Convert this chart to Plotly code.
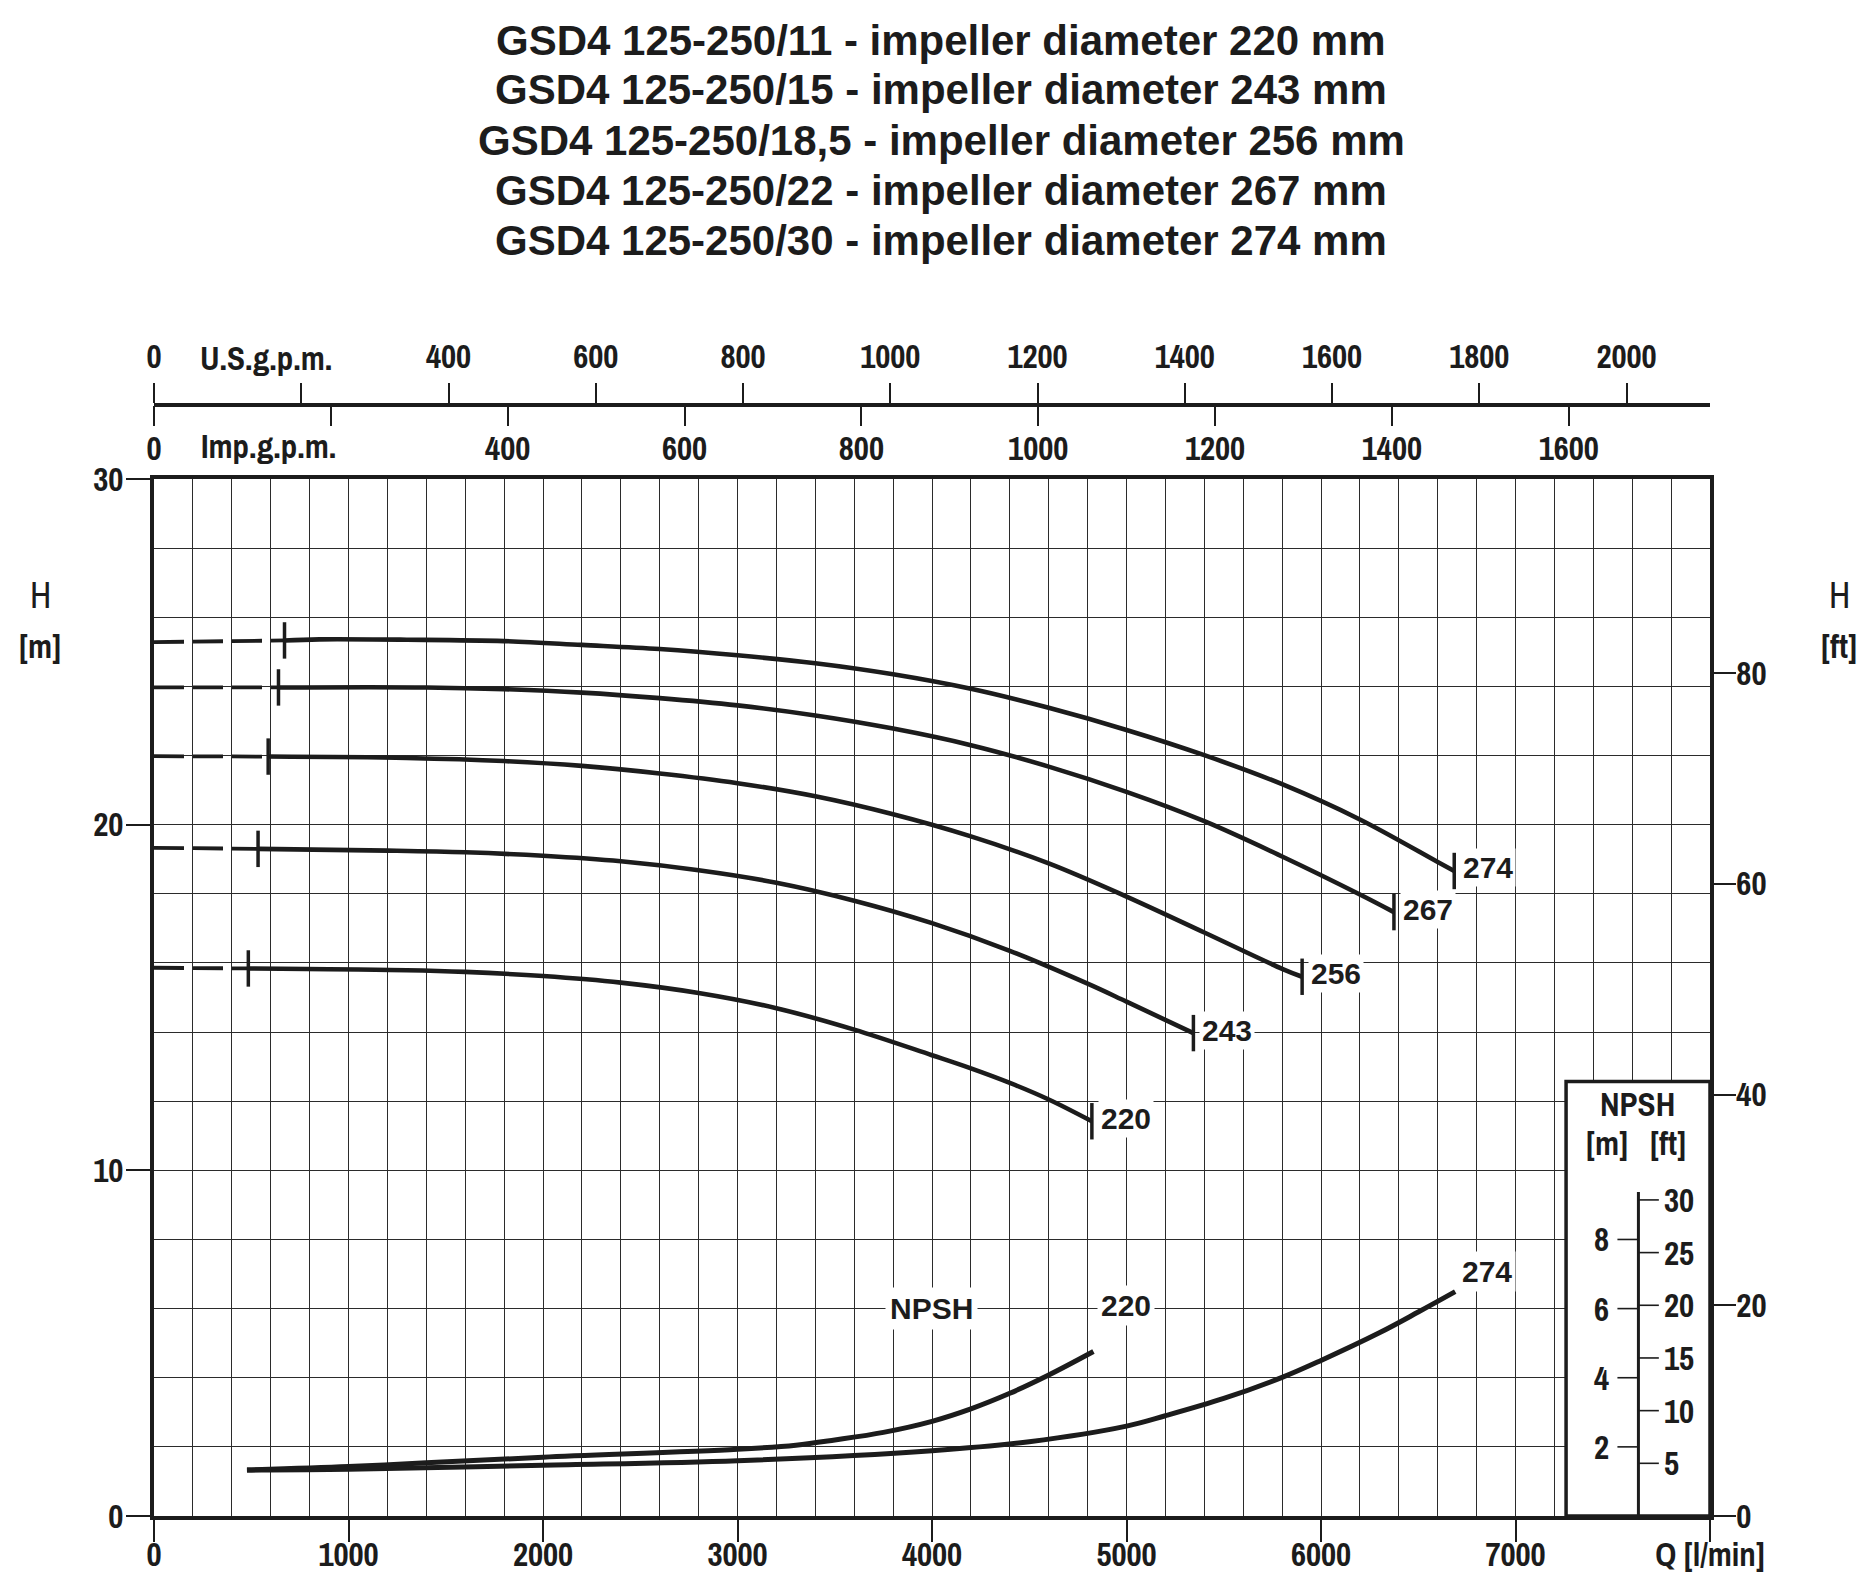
import plotly.graph_objects as go

# ---------------- data ----------------
diameters = [220, 243, 256, 267, 274]
shutoff_H = [15.86, 19.33, 21.98, 23.97, 25.28]   # head at Q = 0 (dashed part)

Q_220 = [485, 1300, 1600, 2000, 2400, 2800, 3200, 3600, 4000, 4200, 4400, 4600, 4822]
H_220 = [15.84, 15.79, 15.74, 15.62, 15.43, 15.13, 14.69, 14.07, 13.33, 12.95, 12.53, 12.05, 11.42]

Q_243 = [535, 1200, 1600, 2000, 2400, 2800, 3200, 3600, 4000, 4400, 4800, 5000, 5344]
H_243 = [19.30, 19.25, 19.20, 19.10, 18.94, 18.68, 18.32, 17.80, 17.15, 16.35, 15.40, 14.88, 13.97]

Q_256 = [587, 1300, 1800, 2200, 2600, 3000, 3400, 3800, 4200, 4600, 5000, 5400, 5800, 5903]
H_256 = [21.97, 21.93, 21.84, 21.70, 21.48, 21.20, 20.82, 20.30, 19.66, 18.88, 17.92, 16.88, 15.83, 15.60]

Q_267 = [640, 1400, 1800, 2200, 2600, 3000, 3400, 3800, 4200, 4600, 5000, 5400, 5800, 6200, 6375]
H_267 = [23.97, 23.97, 23.92, 23.82, 23.66, 23.45, 23.16, 22.78, 22.30, 21.68, 20.95, 20.10, 19.08, 17.98, 17.47]

Q_274 = [671, 850, 1300, 1800, 2200, 2600, 3000, 3400, 3800, 4200, 4600, 5000, 5400, 5800, 6200, 6600, 6685]
H_274 = [25.33, 25.36, 25.35, 25.31, 25.20, 25.08, 24.90, 24.67, 24.35, 23.93, 23.38, 22.74, 22.01, 21.17, 20.15, 18.92, 18.66]

NPSH_Q_220 = [478, 1000, 1400, 2000, 3000, 3300, 3500, 3750, 4000, 4200, 4400, 4600, 4830]
NPSH_H_220 = [1.33, 1.43, 1.54, 1.70, 1.93, 2.05, 2.20, 2.42, 2.74, 3.10, 3.55, 4.08, 4.76]

NPSH_Q_274 = [478, 1000, 2000, 3000, 4000, 4500, 5000, 5200, 5500, 5800, 6000, 6300, 6500, 6690]
NPSH_H_274 = [1.33, 1.35, 1.47, 1.60, 1.89, 2.15, 2.60, 2.90, 3.40, 4.01, 4.50, 5.30, 5.90, 6.49]

q_ticks = [0, 1000, 2000, 3000, 4000, 5000, 6000, 7000]
h_m_ticks = [0, 10, 20, 30]
h_ft_ticks = [0, 20, 40, 60, 80]
usgpm_ticks = [0, 200, 400, 600, 800, 1000, 1200, 1400, 1600, 1800, 2000]
impgpm_ticks = [0, 200, 400, 600, 800, 1000, 1200, 1400, 1600]
npsh_m_ticks = [2, 4, 6, 8]
npsh_ft_ticks = [5, 10, 15, 20, 25, 30]

title_lines = [
    "GSD4 125-250/11 - impeller diameter 220 mm",
    "GSD4 125-250/15 - impeller diameter 243 mm",
    "GSD4 125-250/18,5 - impeller diameter 256 mm",
    "GSD4 125-250/22 - impeller diameter 267 mm",
    "GSD4 125-250/30 - impeller diameter 274 mm",
]

Q_MAX = 8000.0
H_MAX = 30.0
L_PER_USGAL = 3.78541
L_PER_IMPGAL = 4.54609
M_PER_FT = 0.3048

# ---------------- layout geometry (page pixels) ----------------
PAGE_W, PAGE_H = 1869, 1587
OFF = 8                      # default body margin of the html page
W, HGT = PAGE_W - 2 * OFF, PAGE_H - 2 * OFF
PLOT_L, PLOT_R, PLOT_T, PLOT_B = 154, 1710, 479, 1516   # page coords
PAPER_T = 300
GPM_LINE = 405
ML = PLOT_L - OFF
MR = W - (PLOT_R - OFF)
MT = PAPER_T - OFF
MB = HGT - (PLOT_B - OFF)
paper_w = PLOT_R - PLOT_L
paper_h = PLOT_B - PAPER_T
dom_top = (PLOT_B - PLOT_T) / paper_h
gpm_pos = (PLOT_B - GPM_LINE) / paper_h


def px(x, y):
    """page pixel -> paper fraction"""
    return (x - PLOT_L) / paper_w, (PLOT_B - y) / paper_h


INK = "#1c1c1c"
GRID = "#2b2b2b"
NARROW = "Archivo Narrow, PT Sans Narrow, Barlow Condensed, Liberation Sans, sans-serif"
SANS = "Liberation Sans, Arial, Helvetica, sans-serif"
tickfont = dict(family=NARROW, size=33, color=INK, weight="bold")
labfont = dict(family=SANS, size=30, color=INK, weight="bold")

fig = go.Figure()

Q_curves = [Q_220, Q_243, Q_256, Q_267, Q_274]
H_curves = [H_220, H_243, H_256, H_267, H_274]

for d, h0, qs, hs in zip(diameters, shutoff_H, Q_curves, H_curves):
    fig.add_trace(go.Scatter(x=[0, qs[0]], y=[h0, hs[0]], mode="lines",
                             line=dict(color=INK, width=3.8, dash="30px,9px"),
                             showlegend=False, hoverinfo="skip"))
    fig.add_trace(go.Scatter(x=qs, y=hs, mode="lines",
                             line=dict(color=INK, width=4.6, shape="spline", smoothing=1.0),
                             showlegend=False, name=str(d)))
    fig.add_trace(go.Scatter(x=[qs[0], qs[-1]], y=[hs[0], hs[-1]], mode="markers",
                             marker=dict(symbol="line-ns", size=26,
                                         line=dict(color=INK, width=3.5)),
                             showlegend=False, hoverinfo="skip"))
    fig.add_annotation(x=qs[-1], y=hs[-1], text=str(d), showarrow=False,
                       xanchor="left", yanchor="middle", xshift=6, yshift=3,
                       font=labfont, bgcolor="white", borderpad=2)

for qs, hs in [(NPSH_Q_220, NPSH_H_220), (NPSH_Q_274, NPSH_H_274)]:
    fig.add_trace(go.Scatter(x=qs, y=hs, mode="lines",
                             line=dict(color=INK, width=5, shape="spline", smoothing=1.0),
                             showlegend=False))

fig.add_annotation(x=3995, y=6.0, text="NPSH", showarrow=False, font=labfont,
                   xanchor="center", yanchor="middle", bgcolor="white", borderpad=4)
fig.add_annotation(x=NPSH_Q_220[-1], y=NPSH_H_220[-1], text="220", showarrow=False,
                   font=labfont, bgcolor="white", borderpad=3,
                   xanchor="center", yanchor="middle", xshift=33, yshift=46)
fig.add_annotation(x=NPSH_Q_274[-1], y=NPSH_H_274[-1], text="274", showarrow=False,
                   font=labfont, bgcolor="white", borderpad=3,
                   xanchor="center", yanchor="middle", xshift=32, yshift=20)

# invisible traces so that the secondary axes are drawn
fig.add_trace(go.Scatter(x=[None], y=[None], xaxis="x", yaxis="y2", showlegend=False))
fig.add_trace(go.Scatter(x=[None], y=[None], xaxis="x2", yaxis="y", showlegend=False))
fig.add_trace(go.Scatter(x=[None], y=[None], xaxis="x3", yaxis="y", showlegend=False))

# ---------------- NPSH inset ----------------
BOX_Q0, BOX_H1 = 7260, 12.57
AX_Q = 7632
AX_TOP = 9.37
shapes = [
    dict(type="rect", xref="x", yref="y", x0=BOX_Q0, x1=Q_MAX, y0=0, y1=BOX_H1,
         fillcolor="white", line=dict(color=INK, width=3.5), layer="above"),
    dict(type="line", xref="x", yref="y", x0=AX_Q, x1=AX_Q, y0=0, y1=AX_TOP,
         line=dict(color=INK, width=3), layer="above"),
]
for v in npsh_m_ticks:
    shapes.append(dict(type="line", xref="x", yref="y", x0=AX_Q - 108, x1=AX_Q, y0=v, y1=v,
                       line=dict(color=INK, width=1.6), layer="above"))
    fig.add_annotation(x=7440, y=v, text=str(v), showarrow=False, font=tickfont,
                       xanchor="center", yanchor="middle")
for v in npsh_ft_ticks:
    shapes.append(dict(type="line", xref="x", yref="y", x0=AX_Q, x1=AX_Q + 105,
                       y0=v * M_PER_FT, y1=v * M_PER_FT,
                       line=dict(color=INK, width=1.6), layer="above"))
    fig.add_annotation(x=7755, y=v * M_PER_FT, text=str(v), showarrow=False, font=tickfont,
                       xanchor="left", yanchor="middle")
fig.add_annotation(x=7625, y=11.92, text="NPSH", showarrow=False, font=tickfont,
                   xanchor="center", yanchor="middle")
fig.add_annotation(x=7471, y=10.79, text="[m]", showarrow=False, font=tickfont,
                   xanchor="center", yanchor="middle")
fig.add_annotation(x=7782, y=10.79, text="[ft]", showarrow=False, font=tickfont,
                   xanchor="center", yanchor="middle")

# ---------------- title and side labels ----------------
for line, yc in zip(title_lines, [41, 90, 140, 190.5, 241]):
    xp, yp = px(941, yc)
    fig.add_annotation(xref="paper", yref="paper", x=xp, y=yp, text=line, showarrow=False,
                       xanchor="center", yanchor="middle",
                       font=dict(family=SANS, size=42, color=INK, weight="bold"))

for xc, t1, t2 in [(40, "H", "[m]"), (1839, "H", "[ft]")]:
    xp, yp = px(xc, 595)
    fig.add_annotation(xref="paper", yref="paper", x=xp, y=yp, text=t1, showarrow=False,
                       xanchor="center", yanchor="middle",
                       font=dict(family=NARROW, size=36, color=INK))
    xp, yp = px(xc, 646)
    fig.add_annotation(xref="paper", yref="paper", x=xp, y=yp, text=t2, showarrow=False,
                       xanchor="center", yanchor="middle", font=tickfont)

xp, yp = px(266, 358)
fig.add_annotation(xref="paper", yref="paper", x=xp, y=yp, text="U.S.g.p.m.", showarrow=False,
                   xanchor="center", yanchor="middle", font=tickfont)
xp, yp = px(268, 446)
fig.add_annotation(xref="paper", yref="paper", x=xp, y=yp, text="Imp.g.p.m.", showarrow=False,
                   xanchor="center", yanchor="middle", font=tickfont)

# ---------------- axes ----------------
fig.update_layout(
    width=W, height=HGT,
    margin=dict(l=ML, r=MR, t=MT, b=MB, autoexpand=False),
    paper_bgcolor="white", plot_bgcolor="white",
    showlegend=False,
    shapes=shapes,
    xaxis=dict(
        domain=[0, 1], range=[0, Q_MAX], tickmode="array",
        tickvals=q_ticks + [Q_MAX], ticktext=[str(v) for v in q_ticks] + ["Q [l/min]"],
        ticks="outside", ticklen=22, tickwidth=2, tickcolor=INK,
        showline=True, linewidth=4, linecolor=INK, mirror=True,
        showgrid=True, gridcolor=GRID, gridwidth=1.3, zeroline=False,
        minor=dict(tickmode="linear", tick0=0, dtick=200, showgrid=True,
                   gridcolor=GRID, gridwidth=1.3, ticks=""),
        tickfont=tickfont, ticklabelstandoff=-16,
    ),
    yaxis=dict(
        domain=[0, dom_top], range=[0, H_MAX], tickmode="array", tickvals=h_m_ticks,
        ticks="outside", ticklen=24, tickwidth=2, tickcolor=INK,
        showline=True, linewidth=4, linecolor=INK,
        showgrid=True, gridcolor=GRID, gridwidth=1.3, zeroline=False,
        minor=dict(tickmode="linear", tick0=0, dtick=2, showgrid=True,
                   gridcolor=GRID, gridwidth=1.3, ticks=""),
        tickfont=tickfont, ticklabelstandoff=-4,
    ),
    yaxis2=dict(
        overlaying="y", side="right", anchor="x", range=[0, H_MAX / M_PER_FT],
        tickmode="array", tickvals=h_ft_ticks,
        ticks="outside", ticklen=22, tickwidth=2, tickcolor=INK,
        showline=True, linewidth=3.5, linecolor=INK,
        showgrid=False, zeroline=False, tickfont=tickfont, ticklabelstandoff=-6,
    ),
    xaxis2=dict(
        overlaying="x", anchor="free", position=gpm_pos, side="top",
        range=[0, Q_MAX / L_PER_USGAL], tickmode="array", tickvals=usgpm_ticks,
        ticktext=["" if v == 200 else str(v) for v in usgpm_ticks],
        ticks="outside", ticklen=20, tickwidth=1.6, tickcolor=INK,
        showline=True, linewidth=3.5, linecolor=INK,
        showgrid=False, zeroline=False, tickfont=tickfont, ticklabelstandoff=2,
    ),
    xaxis3=dict(
        overlaying="x", anchor="free", position=gpm_pos, side="bottom",
        range=[0, Q_MAX / L_PER_IMPGAL], tickmode="array", tickvals=impgpm_ticks,
        ticktext=["" if v == 200 else str(v) for v in impgpm_ticks],
        ticks="outside", ticklen=20, tickwidth=1.6, tickcolor=INK,
        showline=False, showgrid=False, zeroline=False,
        tickfont=tickfont, ticklabelstandoff=-6,
    ),
)

fig.write_html("out.html")
